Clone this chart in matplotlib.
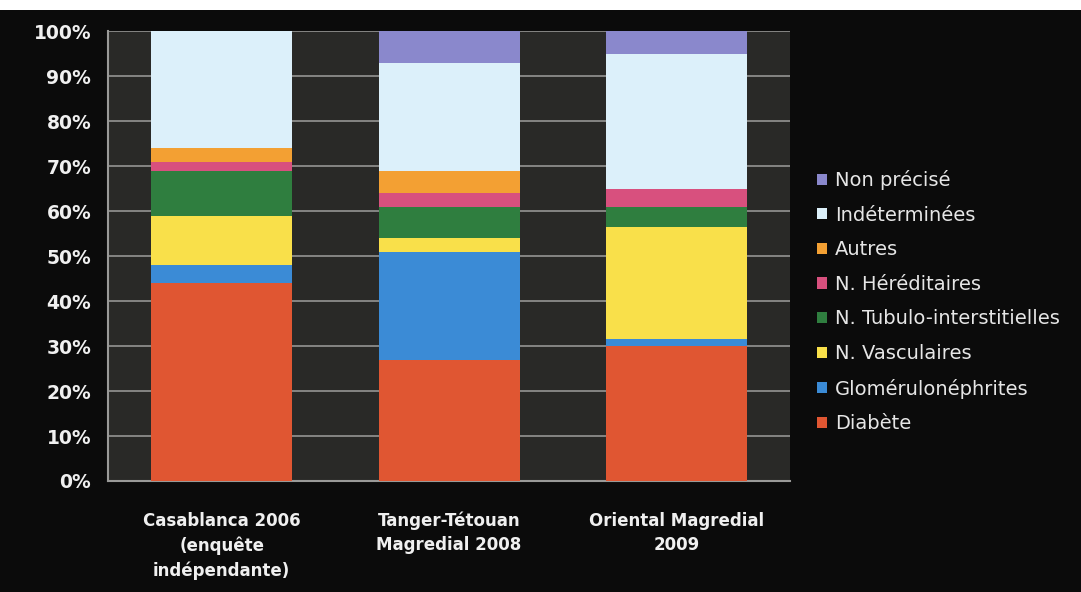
import matplotlib.pyplot as plt
from matplotlib.patches import Patch, Rectangle
from matplotlib.ticker import FuncFormatter
import numpy as np

# causes of end-stage renal disease, % of cases per registry
registries = ["Casablanca 2006\n(enquête\nindépendante)",
              "Tanger-Tétouan\nMagredial 2008",
              "Oriental Magredial\n2009"]
causes = ["Diabète", "Glomérulonéphrites", "N. Vasculaires",
          "N. Tubulo-interstitielles", "N. Héréditaires", "Autres",
          "Indéterminées", "Non précisé"]
diabete = [44, 27, 30]
glomerulo = [4, 24, 1.5]
vasculaires = [11, 3, 25]
tubulo = [10, 7, 4.5]
hereditaires = [2, 3, 4]
autres = [3, 5, 0]
indeterminees = [26, 24, 30]
non_precise = [0, 7, 5]

series = [diabete, glomerulo, vasculaires, tubulo, hereditaires, autres,
          indeterminees, non_precise]
colors = ["#e05632", "#3b8bd6", "#f9e04a", "#2f7e3f", "#d8507e", "#f3a033",
          "#dcf0fa", "#8a88cc"]

fig = plt.figure(figsize=(10.81, 5.92), dpi=100, facecolor="#0b0b0b")
# white strip along the top edge
fig.patches.append(Rectangle((0, 0.983), 1, 0.017, transform=fig.transFigure,
                             facecolor="white", edgecolor="none", zorder=0))

ax = fig.add_axes([0.0999, 0.1875, 0.631, 0.7601])
ax.set_facecolor("#292927")

x = np.arange(len(registries))
bottom = np.zeros(len(registries))
for vals, col in zip(series, colors):
    vals = np.array(vals, dtype=float)
    ax.bar(x, vals, 0.62, bottom=bottom, color=col, edgecolor="none", zorder=3)
    bottom += vals

ax.set_xlim(-0.5, 2.5)
ax.set_ylim(0, 100)
ax.set_yticks(range(0, 101, 10))
ax.yaxis.set_major_formatter(FuncFormatter(lambda v, p: "%d%%" % v))
ax.grid(axis="y", color="#8c8c8a", linewidth=1.3, zorder=1)
ax.tick_params(axis="y", length=0, pad=12, labelcolor="#f0f0f0", labelsize=13.5)
ax.tick_params(axis="x", length=0, pad=22, labelcolor="#f0f0f0", labelsize=12)
ax.set_xticks(x)
ax.set_xticklabels(registries)
for lbl in ax.get_xticklabels() + ax.get_yticklabels():
    lbl.set_fontweight("bold")
for lbl in ax.get_xticklabels():
    lbl.set_linespacing(1.45)

for side in ["top", "right"]:
    ax.spines[side].set_visible(False)
for side in ["left", "bottom"]:
    ax.spines[side].set_color("#9a9a98")
    ax.spines[side].set_linewidth(1.5)

handles = [Patch(facecolor=c, edgecolor="none") for c in colors]
leg = fig.legend(handles[::-1], causes[::-1], loc="upper left",
                 bbox_to_anchor=(0.740, 0.742), frameon=False,
                 prop={"family": "DejaVu Sans", "size": 14},
                 labelcolor="#e6e6e6", handlelength=0.5,
                 handleheight=0.5, handletextpad=0.4, labelspacing=0.8)

plt.savefig("out.png", dpi=100, facecolor=fig.get_facecolor())
